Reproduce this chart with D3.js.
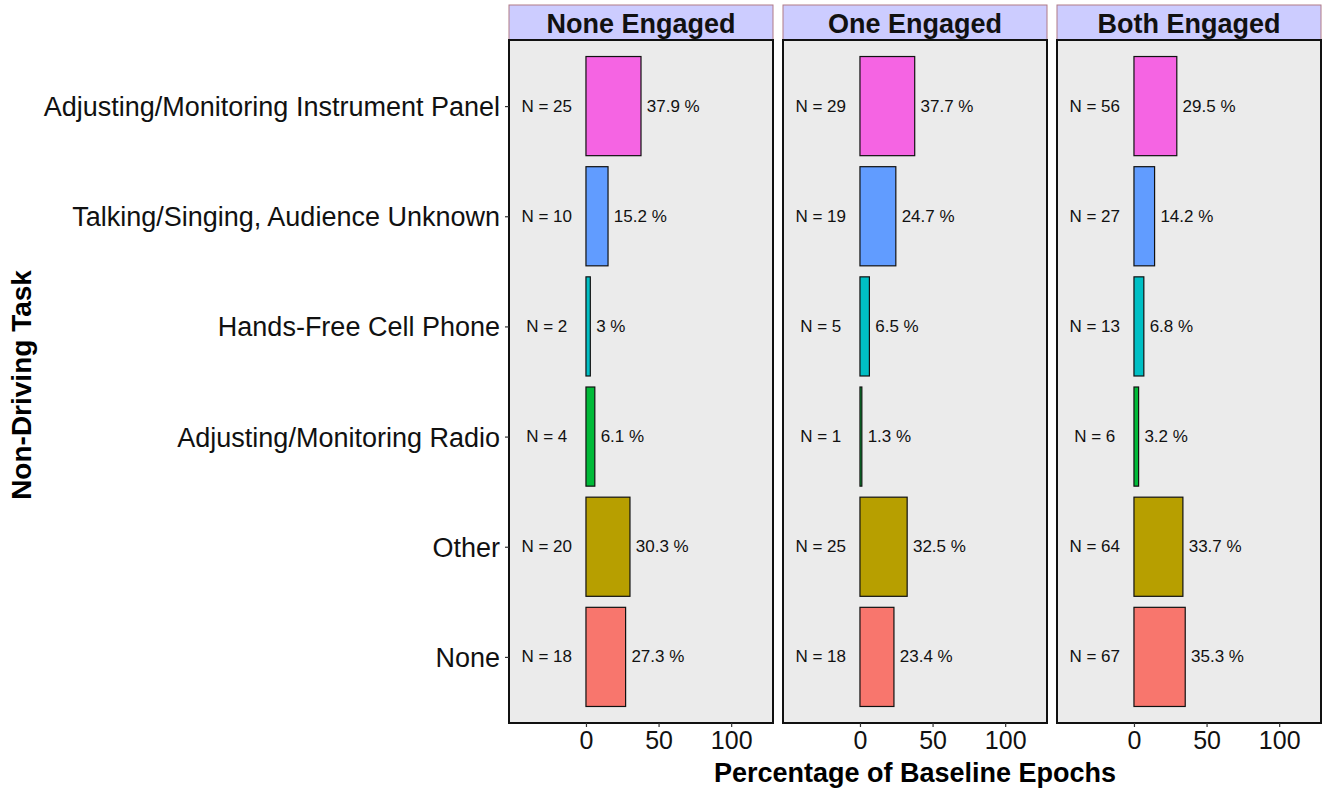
<!DOCTYPE html>
<html>
<head>
<meta charset="utf-8">
<script src="https://cdn.jsdelivr.net/npm/d3@7"></script>
<style>
  body { margin: 0; background: #fff; }
  svg { display: block; font-family: "Liberation Sans", Arial, sans-serif; }
</style>
</head>
<body>
<svg id="chart" width="1323" height="791"></svg>
<script>
const categories = [
  'Adjusting/Monitoring Instrument Panel',
  'Talking/Singing, Audience Unknown',
  'Hands-Free Cell Phone',
  'Adjusting/Monitoring Radio',
  'Other',
  'None'
];
const panels = ['None Engaged', 'One Engaged', 'Both Engaged'];
const pctNone = [37.9, 15.2, 3, 6.1, 30.3, 27.3];
const nNone = [25, 10, 2, 4, 20, 18];
const pctOne = [37.7, 24.7, 6.5, 1.3, 32.5, 23.4];
const nOne = [29, 19, 5, 1, 25, 18];
const pctBoth = [29.5, 14.2, 6.8, 3.2, 33.7, 35.3];
const nBoth = [56, 27, 13, 6, 64, 67];
const xTicks = [0, 50, 100];
const colors = ['#F564E3', '#619CFF', '#00BFC4', '#00BA38', '#B79F00', '#F8766D'];

const series = [
  { pct: pctNone, n: nNone },
  { pct: pctOne, n: nOne },
  { pct: pctBoth, n: nBoth }
];

const svg = d3.select('#chart');
const m = { top: 40, bottom: 723 };
const panelLeft = [509, 783, 1057];
const panelW = 264;
const stripTop = 5;

const y = d3.scalePoint().domain(categories).range([m.top, m.bottom]).padding(0.6);
const barH = y.step() * 0.9;
const color = d3.scaleOrdinal(categories, colors);

panels.forEach((name, p) => {
  const x0 = panelLeft[p];
  const x = d3.scaleLinear().domain([-53, 128.8]).range([x0, x0 + panelW]);
  const g = svg.append('g');

  // strip
  g.append('rect').attr('x', x0).attr('y', stripTop).attr('width', panelW).attr('height', m.top - stripTop)
    .attr('fill', '#CCCCFF').attr('stroke', '#b07a86').attr('stroke-width', 1);
  g.append('text').attr('x', x0 + panelW / 2).attr('y', (stripTop + m.top) / 2 + 1)
    .attr('text-anchor', 'middle').attr('dominant-baseline', 'central')
    .attr('font-size', 27).attr('font-weight', 'bold').attr('fill', '#111').text(name);

  // panel background
  g.append('rect').attr('x', x0).attr('y', m.top).attr('width', panelW).attr('height', m.bottom - m.top)
    .attr('fill', '#EBEBEB');

  const d = categories.map((c, i) => ({ c, pct: series[p].pct[i], n: series[p].n[i] }));

  g.selectAll('.bar').data(d).join('rect').attr('class', 'bar')
    .attr('x', x(0)).attr('y', e => y(e.c) - barH / 2)
    .attr('width', e => x(e.pct) - x(0)).attr('height', barH)
    .attr('fill', e => color(e.c)).attr('stroke', '#111').attr('stroke-width', 1.2);

  g.selectAll('.nlab').data(d).join('text').attr('class', 'nlab')
    .attr('x', x(-27)).attr('y', e => y(e.c))
    .attr('text-anchor', 'middle').attr('dominant-baseline', 'central')
    .attr('font-size', 17).attr('fill', '#111').text(e => `N = ${e.n}`);

  g.selectAll('.plab').data(d).join('text').attr('class', 'plab')
    .attr('x', e => x(e.pct + 4)).attr('y', e => y(e.c))
    .attr('dominant-baseline', 'central')
    .attr('font-size', 17).attr('fill', '#111').text(e => `${e.pct} %`);

  // border
  g.append('rect').attr('x', x0).attr('y', m.top).attr('width', panelW).attr('height', m.bottom - m.top)
    .attr('fill', 'none').attr('stroke', '#111').attr('stroke-width', 2);

  // x axis
  const ax = g.append('g').attr('transform', `translate(0,${m.bottom})`)
    .call(d3.axisBottom(x).tickValues(xTicks).tickSize(4).tickPadding(4));
  ax.select('.domain').remove();
  ax.selectAll('.tick line').attr('stroke', '#333').attr('stroke-width', 1.2);
  ax.selectAll('text').attr('font-size', 25).attr('fill', '#111')
    .attr('font-family', '"Liberation Sans", Arial, sans-serif');

  if (p === 0) {
    const ay = g.append('g').attr('transform', `translate(${x0},0)`)
      .call(d3.axisLeft(y).tickSize(4).tickPadding(5));
    ay.select('.domain').remove();
    ay.selectAll('.tick line').attr('stroke', '#333').attr('stroke-width', 1.2);
    ay.selectAll('text').attr('font-size', 27).attr('fill', '#111').attr('dy', '0.35em')
      .attr('font-family', '"Liberation Sans", Arial, sans-serif');
  }
});

// axis titles
svg.append('text').attr('x', (panelLeft[0] + panelLeft[2] + panelW) / 2).attr('y', 782)
  .attr('text-anchor', 'middle').attr('font-size', 27).attr('font-weight', 'bold').attr('fill', '#000')
  .text('Percentage of Baseline Epochs');
svg.append('text').attr('transform', 'translate(31,385) rotate(-90)')
  .attr('text-anchor', 'middle').attr('font-size', 28).attr('font-weight', 'bold').attr('fill', '#000')
  .text('Non-Driving Task');
</script>
</body>
</html>
